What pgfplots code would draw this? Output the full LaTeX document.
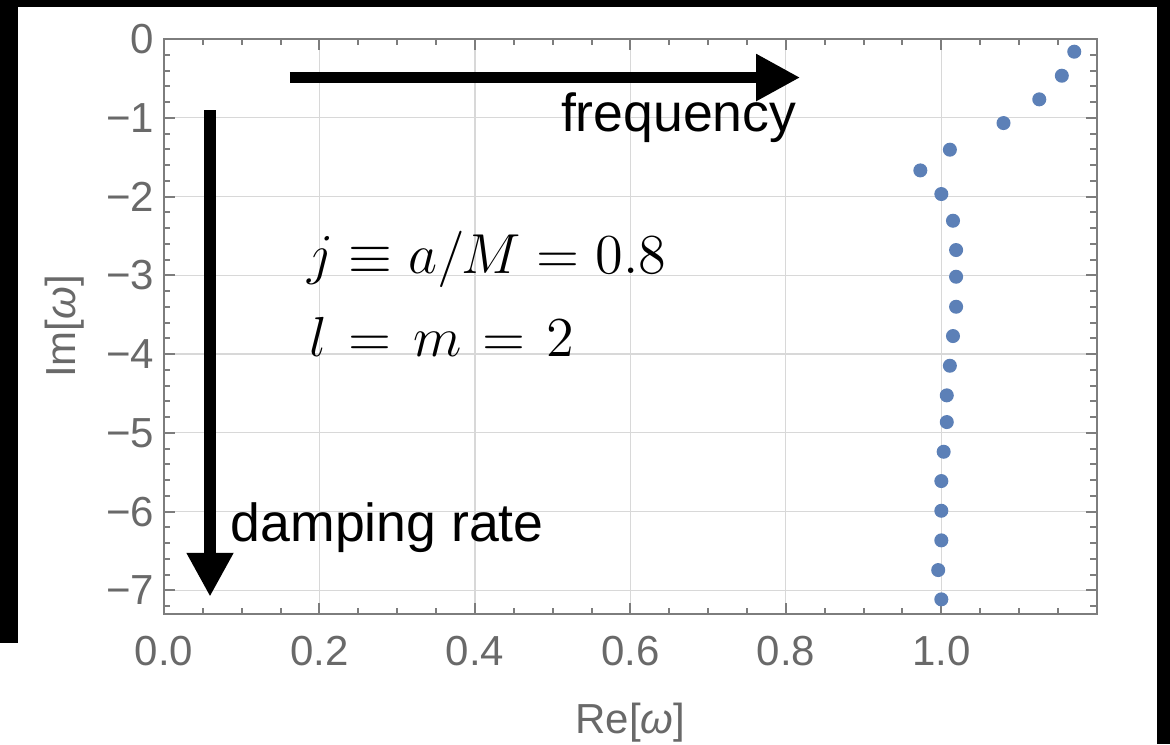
\RequirePackage{fix-cm}
\documentclass[border=0pt]{standalone}
\usepackage[no-math]{fontspec}
\setmainfont{Liberation Sans}
\usepackage{pgfplots}
\pgfplotsset{compat=1.18}
\usetikzlibrary{arrows.meta}
\definecolor{mblue}{RGB}{92,128,183}
\definecolor{axgray}{RGB}{125,125,125}
\definecolor{lblgray}{RGB}{105,105,105}
\definecolor{gridgray}{RGB}{216,216,216}

\begin{document}
\begin{tikzpicture}
\begin{axis}[
  at={(41pt,32.5pt)}, anchor=south west,
  scale only axis, width=233.2pt, height=143.75pt,
  xmin=0, xmax=1.2, ymin=-7.3, ymax=0,
  xtick={0,0.2,0.4,0.6,0.8,1.0},
  xticklabels={0.0,0.2,0.4,0.6,0.8,1.0},
  ytick={-7,-6,-5,-4,-3,-2,-1,0},
  yticklabels={−7,−6,−5,−4,−3,−2,−1,0},
  minor xtick={0.05,0.1,0.15,0.25,0.3,0.35,0.45,0.5,0.55,0.65,0.7,0.75,0.85,0.9,0.95,1.05,1.1,1.15},
  minor ytick={-7.2,-6.8,-6.6,-6.4,-6.2,-5.8,-5.6,-5.4,-5.2,-4.8,-4.6,-4.4,-4.2,-3.8,-3.6,-3.4,-3.2,-2.8,-2.6,-2.4,-2.2,-1.8,-1.6,-1.4,-1.2,-0.8,-0.6,-0.4,-0.2},
  grid=major,
  major grid style={gridgray, line width=0.3pt},
  axis line style={axgray, line width=0.5pt},
  tick style={axgray, line width=0.5pt},
  major tick length=2.8pt, minor tick length=1.6pt,
  tick align=inside,
  ticklabel style={font=\fontsize{10.5}{12}\selectfont, text=lblgray, inner sep=0pt},
  xticklabel style={yshift=-5.25pt},
  yticklabel style={xshift=-2.25pt},
  xlabel={Re[\textit{ω}]}, ylabel={Im[\textit{ω}]},
  label style={font=\fontsize{10.5}{12}\selectfont, text=lblgray, inner sep=0pt},
  xlabel style={at={(axis description cs:0.5,-0.207)}, anchor=base},
  ylabel style={at={(axis description cs:-0.0954,0.5)}, anchor=base},
  clip=false,
]
\addplot[only marks, mark=*, mark size=1.55pt, color=mblue, mark options={draw=none, fill=mblue}] coordinates {
(1.171,-0.161) (1.155,-0.466) (1.126,-0.766) (1.080,-1.067) (1.011,-1.405)
(0.973,-1.668) (1.000,-1.968) (1.015,-2.307) (1.019,-2.679) (1.019,-3.018)
(1.019,-3.399) (1.015,-3.771) (1.011,-4.148) (1.007,-4.524) (1.007,-4.863)
(1.003,-5.240) (1.000,-5.612) (1.000,-5.989) (1.000,-6.365) (0.996,-6.742)
(1.000,-7.114)
};
\draw[line width=2.9pt, -{Triangle[length=11pt,width=11pt]}] (axis cs:0.162,-0.489) -- (axis cs:0.8185,-0.489);
\draw[line width=2.9pt, -{Triangle[length=11pt,width=11pt]}] (axis cs:0.0592,-0.9015) -- (axis cs:0.0592,-7.081);
\node[anchor=base west, inner sep=0pt, font=\fontsize{13.4}{16}\selectfont] at (axis cs:0.5097,-1.177) {frequency};
\node[anchor=base west, inner sep=0pt, font=\fontsize{13.4}{16}\selectfont] at (axis cs:0.0849,-6.383) {damping rate};
\node[anchor=base west, inner sep=0pt, font=\fontsize{14.1}{17}\selectfont] at (axis cs:0.183,-2.975) {$j\equiv a/M=0.8$};
\node[anchor=base west, inner sep=0pt, font=\fontsize{14.1}{17}\selectfont] at (axis cs:0.1866,-4.034) {\thickmuskip=6.8mu$l=m=2$};
\end{axis}
\fill[black] (0,184.25pt) rectangle (292.5pt,186pt);
\fill[black] (0,25.25pt) rectangle (4.58pt,186pt);
\fill[black] (289.25pt,0) rectangle (292.5pt,186pt);
\pgfresetboundingbox
\path[use as bounding box] (0,0) rectangle (292.5pt,186pt);
\end{tikzpicture}
\end{document}
